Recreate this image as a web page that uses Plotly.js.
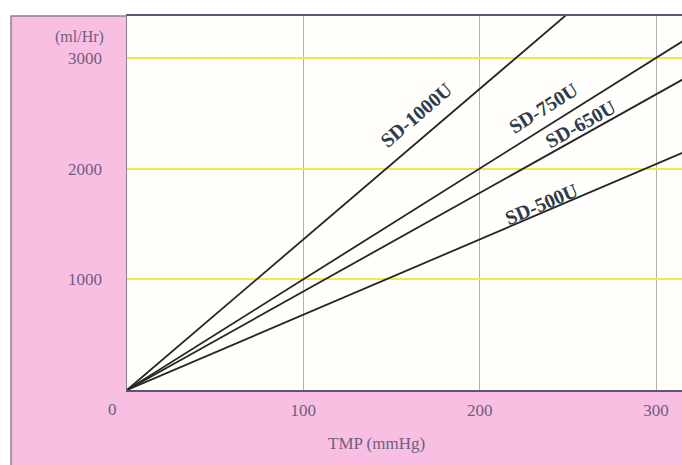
<!DOCTYPE html>
<html>
<head>
<meta charset="utf-8">
<script src="https://cdn.plot.ly/plotly-3.0.1.min.js"></script>
<style>html,body{margin:0;padding:0;background:#fff;}#chart{width:682px;height:465px;}</style>
</head>
<body>
<div id="chart"></div>
<script>
// TMP (mmHg) sample points
const tmp = [0, 100, 200, 300, 350];
// Filtration rate (ml/Hr)
const sd1000u = [0, 1360, 2720, 4080, 4760];
const sd750u  = [0, 1000, 2000, 3000, 3500];
const sd650u  = [0, 890, 1780, 2670, 3115];
const sd500u  = [0, 680, 1360, 2040, 2380];
const seriesNames = ['SD-1000U', 'SD-750U', 'SD-650U', 'SD-500U'];
const seriesValues = [sd1000u, sd750u, sd650u, sd500u];
const xTicks = [100, 200, 300];
const yTicks = [1000, 2000, 3000];

const serif = 'Liberation Serif, DejaVu Serif, serif';
const tickColor = '#6e5e82';
const labelColor = '#2c3c4c';

const traces = seriesValues.map((v, i) => ({
  x: tmp, y: v, type: 'scatter', mode: 'lines', name: seriesNames[i],
  line: {color: '#262626', width: 1.8}, hoverinfo: 'skip'
}));

const labelPos = [
  {x: 164, y: 2480, a: -40.5},
  {x: 236, y: 2545, a: -32},
  {x: 257, y: 2405, a: -29},
  {x: 235, y: 1680, a: -23}
];

const annotations = seriesNames.map((n, i) => ({
  x: labelPos[i].x, y: labelPos[i].y, xref: 'x', yref: 'y',
  text: '<b>' + n + '</b>', showarrow: false, textangle: labelPos[i].a,
  font: {family: serif, size: 20, color: labelColor}
}));
annotations.push(
  {xref: 'paper', yref: 'paper', x: -0.037, y: 1.0, yshift: -21, xanchor: 'right', yanchor: 'middle',
   text: '(ml/Hr)', showarrow: false, font: {family: serif, size: 16, color: tickColor}},
  {xref: 'paper', yref: 'paper', x: -0.026, y: -0.051, xanchor: 'center', yanchor: 'middle',
   text: '0', showarrow: false, font: {family: serif, size: 17, color: tickColor}},
  {xref: 'paper', yref: 'paper', x: 0.45, y: -0.143, xanchor: 'center', yanchor: 'middle',
   text: 'TMP (mmHg)', showarrow: false, font: {family: serif, size: 17, color: tickColor}}
);

const layout = {
  width: 682, height: 465,
  margin: {l: 127, r: 0, t: 16, b: 75, pad: 0},
  paper_bgcolor: '#ffffff',
  plot_bgcolor: 'rgba(0,0,0,0)',
  showlegend: false,
  font: {family: serif, color: tickColor},
  xaxis: {
    range: [0, 314.7], tickvals: xTicks, ticktext: xTicks.map(String),
    ticks: '', ticklabelstandoff: 4,
    showgrid: true, gridcolor: '#b4b0b0', gridwidth: 1,
    zeroline: false, showline: true, linecolor: '#5e5670', linewidth: 2, mirror: true,
    tickfont: {family: serif, size: 17, color: tickColor}, fixedrange: true
  },
  yaxis: {
    range: [0, 3378], tickvals: yTicks, ticktext: yTicks.map(String),
    ticks: '', ticklabelstandoff: 20,
    showgrid: true, gridcolor: '#eeea4e', gridwidth: 2,
    zeroline: true, zerolinecolor: '#eeea4e', zerolinewidth: 3,
    showline: true, linecolor: '#8a7a94', linewidth: 1.5,
    tickfont: {family: serif, size: 17, color: tickColor}, fixedrange: true
  },
  shapes: [
    {type: 'rect', xref: 'paper', yref: 'paper', x0: -0.209, x1: 1.05, y0: -0.25, y1: 1.0,
     fillcolor: '#f8bfe3', line: {color: '#8c8090', width: 1.5}, layer: 'below'},
    {type: 'rect', xref: 'paper', yref: 'paper', x0: 0, x1: 1, y0: 0, y1: 1,
     fillcolor: '#fffefa', line: {width: 0}, layer: 'below'}
  ],
  annotations: annotations
};

Plotly.newPlot('chart', traces, layout, {displayModeBar: false, staticPlot: true});
</script>
</body>
</html>
